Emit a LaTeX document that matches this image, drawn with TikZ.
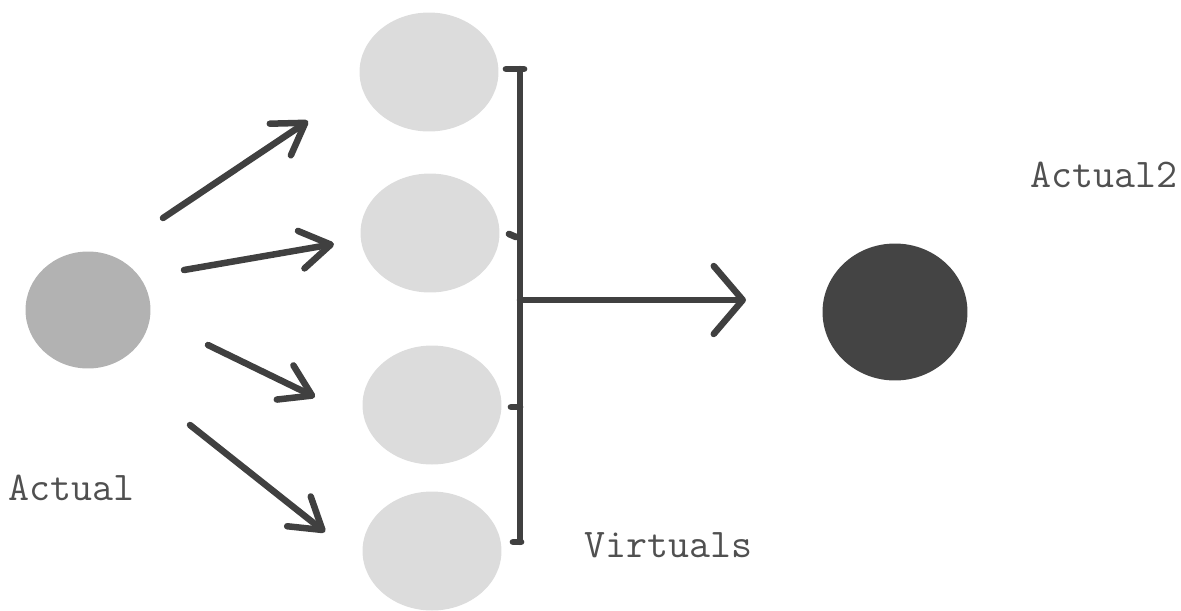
\documentclass[tikz,border=0pt]{standalone}
\usetikzlibrary{arrows.meta,shapes.geometric}
\definecolor{inkgray}{RGB}{64,64,64}
\definecolor{actualgray}{RGB}{178,178,178}
\definecolor{virtgray}{RGB}{220,220,220}
\definecolor{actualdark}{RGB}{68,68,68}
\definecolor{labelgray}{RGB}{80,80,80}

\begin{document}
\begin{tikzpicture}[x=0.02cm, y=-0.02cm,
  actual/.style={ellipse, fill=actualgray, minimum width=2.5cm, minimum height=2.34cm, inner sep=0pt},
  actualtwo/.style={ellipse, fill=actualdark, minimum width=2.9cm, minimum height=2.74cm, inner sep=0pt},
  virtual/.style={ellipse, fill=virtgray, minimum width=2.78cm, minimum height=2.38cm, inner sep=0pt},
  push/.style={draw=inkgray, line width=3.7pt, line cap=round, -{Straight Barb[length=0.6cm, width=0.76cm, round]}},
  merge/.style={draw=inkgray, line width=3.7pt, line cap=round, -{Straight Barb[length=0.58cm, width=1.36cm, round]}},
  bus/.style={draw=inkgray, line width=3.6pt, line cap=round},
  tick/.style={draw=inkgray, line width=3.8pt, line cap=round},
  caption/.style={font=\fontsize{23.2}{27}\selectfont\ttfamily, text=labelgray, inner sep=0pt, anchor=base west}
]
\useasboundingbox (0,0) rectangle (1181,610);
\clip (0,0) rectangle (1181,610);

\node[actual] (act) at (88,310) {};
\node[actualtwo] (act2) at (895,312) {};

\node[virtual] (v1) at (429,72) {};
\node[virtual] (v2) at (430,233) {};
\node[virtual] (v3) at (432,405) {};
\node[virtual] (v4) at (432,551) {};

% fan out from the actual one
\coordinate (p1s) at (163,218); \coordinate (p1e) at (308,121);
\coordinate (p2s) at (184,270); \coordinate (p2e) at (334,244);
\coordinate (p3s) at (208,345); \coordinate (p3e) at (315,397);
\coordinate (p4s) at (190,425); \coordinate (p4e) at (325,532);
\draw[push] (p1s) -- (p1e);
\draw[push] (p2s) -- (p2e);
\draw[push] (p3s) -- (p3e);
\draw[push] (p4s) -- (p4e);

% collecting bar
\coordinate (bustop) at (520,69);
\coordinate (busbot) at (520,542);
\draw[bus] (bustop) -- (busbot);
\draw[tick] (506,69) -- (524,69);
\draw[tick] (509,234) -- (516,237);
\draw[tick] (511,407) -- (520,407);
\draw[tick] (513,542) -- (521,542);

\coordinate (busout) at (520,300);
\coordinate (mergeend) at (746,300);
\draw[merge] (busout) -- (mergeend);

\node[caption] (lblact) at (8,500) {Actual};
\node[caption] (lblvirt) at (584,557) {Virtuals};
\node[caption] (lblact2) at (1030,187) {Actual2};
\end{tikzpicture}
\end{document}
